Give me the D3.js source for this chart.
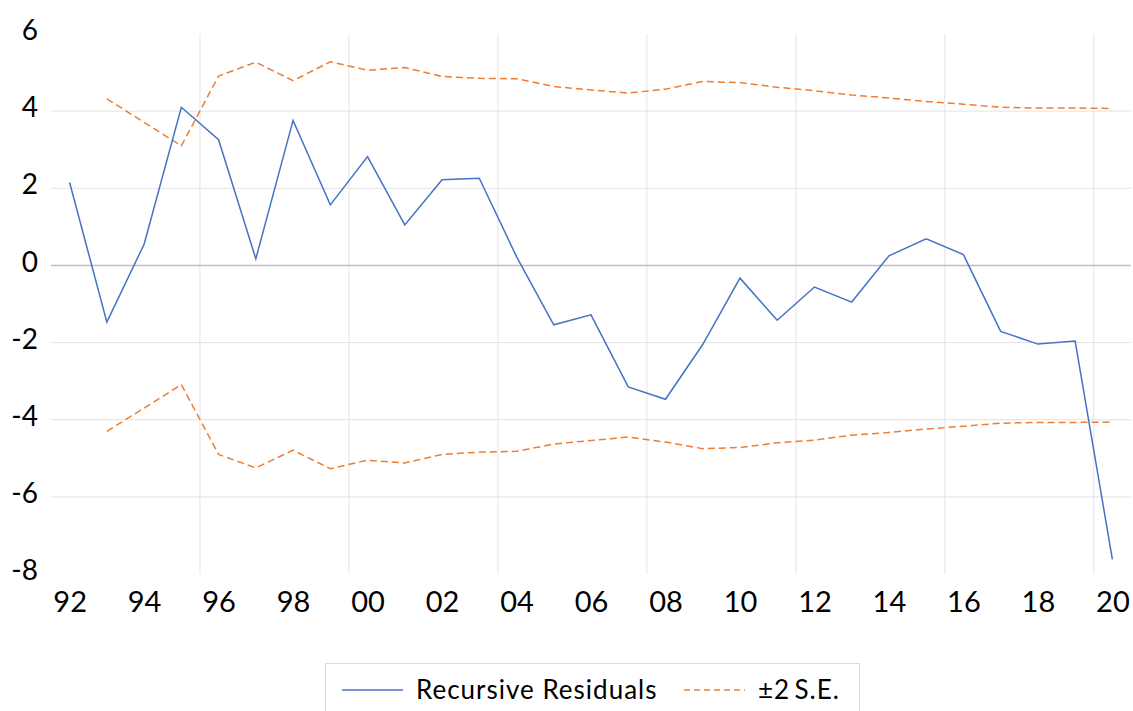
<!DOCTYPE html>
<html>
<head>
<meta charset="utf-8">
<script src="https://cdn.jsdelivr.net/npm/d3@7"></script>
<style>
  body { margin: 0; background: #fff; }
  text { font-family: Lato, "Open Sans", sans-serif; fill: #000; }
</style>
</head>
<body>
<div id="chart"></div>
<script>

// annual observations, 1992..2020
var years = d3.range(1992, 2021);

var residuals = [2.15, -1.47, 0.55, 4.10, 3.26, 0.17, 3.76, 1.57, 2.82, 1.05,
                 2.22, 2.26, 0.23, -1.54, -1.28, -3.15, -3.47, -2.05, -0.33, -1.42,
                 -0.56, -0.95, 0.25, 0.69, 0.28, -1.71, -2.04, -1.96, -7.62];

// bands start one year later
var bandYears = d3.range(1993, 2021);

var upperBand = [4.32, 3.71, 3.10, 4.91, 5.27, 4.79, 5.28, 5.06, 5.13, 4.90,
                 4.85, 4.84, 4.64, 4.55, 4.47, 4.57, 4.77, 4.74, 4.62, 4.53,
                 4.42, 4.34, 4.25, 4.18, 4.10, 4.08, 4.08, 4.07];

var lowerBand = [-4.30, -3.70, -3.09, -4.90, -5.25, -4.79, -5.27, -5.05, -5.12, -4.90,
                 -4.84, -4.82, -4.63, -4.54, -4.45, -4.58, -4.75, -4.72, -4.60, -4.53,
                 -4.40, -4.33, -4.24, -4.17, -4.09, -4.07, -4.07, -4.06];

var yTicks = [-8, -6, -4, -2, 0, 2, 4, 6];
var xTickYears = d3.range(1992, 2021, 2);
var xGridYears = d3.range(1996, 2021, 4);

var legendItems = [
  { label: "Recursive Residuals", color: "#4472C4", dash: null },
  { label: "\u00B12\u2009S.E.", color: "#ED7D31", dash: "6,4" }
];


var width = 1133, height = 711;

var svg = d3.select("#chart").append("svg")
  .attr("width", width)
  .attr("height", height);

var x = d3.scaleLinear().domain([1992, 2021]).range([51, 1131]);
var y = d3.scaleLinear().domain([-8, 6]).range([574, 34]);

// gridlines
svg.append("g")
  .selectAll("line")
  .data(xGridYears)
  .enter().append("line")
  .attr("x1", function(d) { return x(d); })
  .attr("x2", function(d) { return x(d); })
  .attr("y1", y(6))
  .attr("y2", y(-8))
  .attr("stroke", "#e3e3e3")
  .attr("stroke-width", 1);

svg.append("g")
  .selectAll("line")
  .data(yTicks.filter(function(d) { return d > -8 && d < 6; }))
  .enter().append("line")
  .attr("x1", x(1992))
  .attr("x2", x(2021))
  .attr("y1", function(d) { return y(d); })
  .attr("y2", function(d) { return y(d); })
  .attr("stroke", function(d) { return d == 0 ? "#bfbfbf" : "#e3e3e3"; })
  .attr("stroke-width", function(d) { return d == 0 ? 1.5 : 1; });

// axes (labels only)
var yAxis = d3.axisLeft(y)
  .tickValues(yTicks)
  .tickSize(0)
  .tickPadding(13)
  .tickFormat(function(d) { return String(d); });

var yg = svg.append("g")
  .attr("transform", "translate(" + x(1992) + ",0)")
  .call(yAxis);
yg.select(".domain").remove();
yg.selectAll("text")
  .attr("dy", "0.2em")
  .style("font-size", "28px")
  .style("font-family", "Lato, sans-serif");

// labels sit in the middle of their year
var xAxis = d3.axisBottom(x)
  .tickValues(xTickYears.map(function(d) { return d + 0.5; }))
  .tickSize(0)
  .tickPadding(0)
  .tickFormat(function(d) { return d3.format("02d")(Math.floor(d) % 100); });

var xg = svg.append("g")
  .attr("transform", "translate(0," + 591 + ")")
  .call(xAxis);
xg.select(".domain").remove();
xg.selectAll("text")
  .attr("dy", "0.71em")
  .style("font-size", "29px")
  .style("font-family", "Lato, sans-serif");

// series
var residualLine = d3.line()
  .x(function(d, i) { return x(years[i] + 0.5); })
  .y(function(d) { return y(d); });

var bandLine = d3.line()
  .x(function(d, i) { return x(bandYears[i] + 0.5); })
  .y(function(d) { return y(d); });

svg.append("path")
  .datum(upperBand)
  .attr("d", bandLine)
  .attr("fill", "none")
  .attr("stroke", "#ED7D31")
  .attr("stroke-width", 1.5)
  .attr("stroke-dasharray", "7,4");

svg.append("path")
  .datum(lowerBand)
  .attr("d", bandLine)
  .attr("fill", "none")
  .attr("stroke", "#ED7D31")
  .attr("stroke-width", 1.5)
  .attr("stroke-dasharray", "7,4");

svg.append("path")
  .datum(residuals)
  .attr("d", residualLine)
  .attr("fill", "none")
  .attr("stroke", "#4472C4")
  .attr("stroke-width", 1.5);

// legend
var legend = svg.append("g");
legend.append("rect")
  .attr("x", 325.5)
  .attr("y", 663.5)
  .attr("width", 534)
  .attr("height", 60)
  .attr("fill", "#fff")
  .attr("stroke", "#d9d9d9");

var legendX = [342, 684];
var legendEntry = legend.selectAll("g.entry")
  .data(legendItems)
  .enter().append("g")
  .attr("class", "entry")
  .attr("transform", function(d, i) { return "translate(" + legendX[i] + ",690)"; });

legendEntry.append("line")
  .attr("x1", 0)
  .attr("x2", 61)
  .attr("stroke", function(d) { return d.color; })
  .attr("stroke-width", 1.5)
  .attr("stroke-dasharray", function(d) { return d.dash; });

legendEntry.append("text")
  .attr("x", 74)
  .attr("dy", "0.35em")
  .style("font-size", "26px")
  .style("letter-spacing", "1px")
  .text(function(d) { return d.label; });

</script>
</body>
</html>
